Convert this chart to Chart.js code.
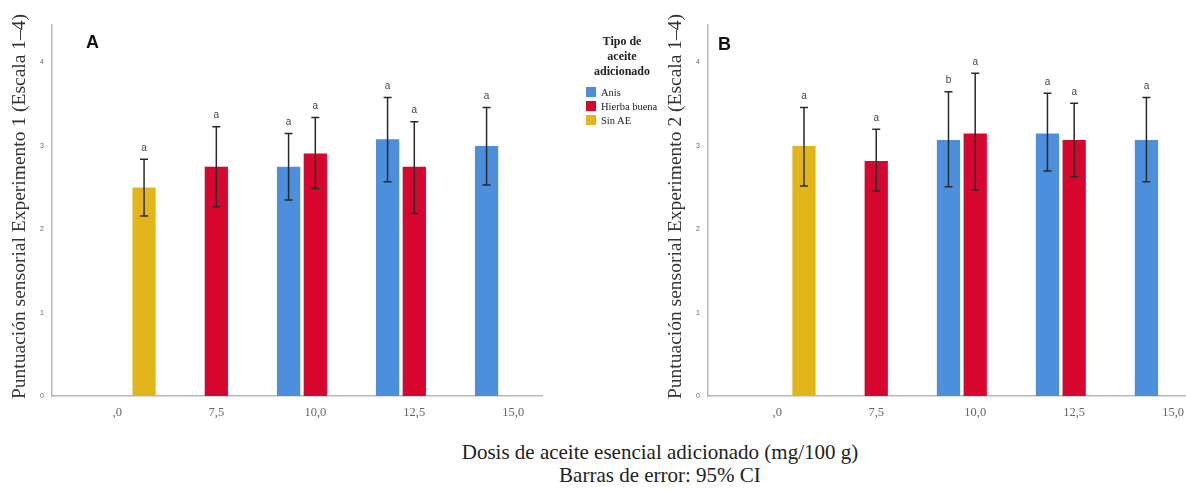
<!DOCTYPE html>
<html lang="es">
<head>
<meta charset="utf-8">
<title>Puntuación sensorial</title>
<script src="https://cdn.jsdelivr.net/npm/chart.js@4.4.1/dist/chart.umd.min.js"></script>
<style>
  html, body { margin: 0; padding: 0; background: #fff; }
  body { position: relative; width: 1186px; height: 490px; overflow: hidden; }
  canvas { position: absolute; top: 0; }
  #chartA { left: 0; }
  #chartB { left: 656px; }
  .panel { position: absolute; font: bold 18px "Liberation Sans", Arial, sans-serif; color: #111; }
  #legend { position: absolute; left: 578px; top: 34px; width: 90px; font-family: "Liberation Serif", "Times New Roman", serif; color: #222; }
  #legend .lt { font-weight: bold; font-size: 12px; line-height: 15px; text-align: center; margin-left: -2px; }
  #legend .item { display: flex; align-items: center; height: 14px; font-size: 10.5px; margin-left: 8px; }
  #legend .box { width: 10px; height: 10px; margin-right: 5px; }
  #legend #items { margin-top: 6px; }
  #caption { position: absolute; left: 360px; top: 441px; width: 600px; text-align: center; font: 21px/23px "Liberation Serif", "Times New Roman", serif; color: #222; }
</style>
</head>
<body>
<canvas id="chartA" width="552" height="430"></canvas>
<canvas id="chartB" width="540" height="430"></canvas>
<div class="panel" style="left:86px; top:32px;">A</div>
<div class="panel" style="left:718px; top:34px;">B</div>
<div id="legend">
  <div class="lt">Tipo de<br>aceite<br>adicionado</div>
  <div id="items"></div>
</div>
<div id="caption">Dosis de aceite esencial adicionado (mg/100 g)<br>Barras de error: 95% CI</div>
<script>
// Categories and series
const doses = [',0', '7,5', '10,0', '12,5', '15,0'];
const seriesNames = ['Anis', 'Hierba buena', 'Sin AE'];
const seriesColors = ['#4c8fdd', '#d7062f', '#e2b51a'];

// Experiment 1 (panel A): means, 95% CI bounds, letters
const anisA = [null, null, 2.75, 3.08, 3.00];
const anisA_lo = [null, null, 2.35, 2.57, 2.53];
const anisA_hi = [null, null, 3.15, 3.58, 3.46];
const hierbaA = [null, 2.75, 2.91, 2.75, null];
const hierbaA_lo = [null, 2.27, 2.49, 2.19, null];
const hierbaA_hi = [null, 3.23, 3.34, 3.29, null];
const sinA = [2.50, null, null, null, null];
const sinA_lo = [2.16, null, null, null, null];
const sinA_hi = [2.84, null, null, null, null];
const anisA_let = ['', '', 'a', 'a', 'a'];
const hierbaA_let = ['', 'a', 'a', 'a', ''];
const sinA_let = ['a', '', '', '', ''];

// Experiment 2 (panel B)
const anisB = [null, null, 3.07, 3.15, 3.07];
const anisB_lo = [null, null, 2.51, 2.70, 2.57];
const anisB_hi = [null, null, 3.65, 3.63, 3.58];
const hierbaB = [null, 2.82, 3.15, 3.07, null];
const hierbaB_lo = [null, 2.46, 2.47, 2.63, null];
const hierbaB_hi = [null, 3.20, 3.87, 3.51, null];
const sinB = [3.00, null, null, null, null];
const sinB_lo = [2.52, null, null, null, null];
const sinB_hi = [3.46, null, null, null, null];
const anisB_let = ['', '', 'b', 'a', 'a'];
const hierbaB_let = ['', 'a', 'a', 'a', ''];
const sinB_let = ['a', '', '', '', ''];

const yTicks = [0, 1, 2, 3, 4];

// error bars + significance letters
const errorBars = {
  id: 'errorBars',
  afterDatasetsDraw(chart) {
    const ctx = chart.ctx;
    const y = chart.scales.y;
    chart.data.datasets.forEach((ds, i) => {
      chart.getDatasetMeta(i).data.forEach((bar, j) => {
        if (ds.lo[j] == null) return;
        const top = y.getPixelForValue(ds.hi[j]);
        const bot = y.getPixelForValue(ds.lo[j]);
        ctx.save();
        ctx.strokeStyle = '#2a2a2a';
        ctx.lineWidth = 1.5;
        ctx.beginPath();
        ctx.moveTo(bar.x, top); ctx.lineTo(bar.x, bot);
        ctx.moveTo(bar.x - 4, top); ctx.lineTo(bar.x + 4, top);
        ctx.moveTo(bar.x - 4, bot); ctx.lineTo(bar.x + 4, bot);
        ctx.stroke();
        ctx.fillStyle = '#444';
        ctx.font = '10px "Liberation Sans", Arial, sans-serif';
        ctx.textAlign = 'center';
        ctx.textBaseline = 'bottom';
        ctx.fillText(ds.letters[j], bar.x, top - 6);
        ctx.restore();
      });
    });
  }
};

// rotated y title, drawn unclipped
const yTitle = {
  id: 'yTitle',
  afterDraw(chart, args, opts) {
    const ctx = chart.ctx;
    const a = chart.chartArea;
    ctx.save();
    ctx.translate(opts.x, (a.top + a.bottom) / 2 - 4);
    ctx.rotate(-Math.PI / 2);
    ctx.fillStyle = '#333';
    ctx.font = '19.5px "Liberation Serif", "Times New Roman", serif';
    ctx.textAlign = 'center';
    ctx.textBaseline = 'middle';
    ctx.fillText(opts.text, 0, 0);
    ctx.restore();
  }
};

function points(values) {
  return values.map((v, i) => ({ x: i, y: v }));
}

function makeChart(id, means, lows, highs, letters, xMin, xMax, title) {
  return new Chart(document.getElementById(id), {
    type: 'bar',
    data: {
      datasets: seriesNames.map((name, k) => ({
        label: name,
        data: points(means[k]),
        lo: lows[k],
        hi: highs[k],
        letters: letters[k],
        backgroundColor: seriesColors[k],
        categoryPercentage: 0.81,
        barPercentage: 0.87
      }))
    },
    options: {
      responsive: false,
      animation: false,
      layout: { padding: { top: 25, right: 10, left: 0, bottom: 0 } },
      plugins: {
        legend: { display: false },
        tooltip: { enabled: false },
        yTitle: { text: title, x: 20 }
      },
      scales: {
        x: {
          type: 'linear',
          offset: false,
          min: xMin,
          max: xMax,
          grid: { display: false, drawTicks: false },
          border: { color: '#b8b8b8', width: 1.5 },
          afterBuildTicks: s => { s.ticks = doses.map((d, i) => ({ value: i })); },
          afterFit: s => { s.height = 34; },
          ticks: {
            autoSkip: false,
            maxRotation: 0,
            padding: 9,
            color: '#666',
            font: { family: '"Liberation Serif", "Times New Roman", serif', size: 12.5 },
            callback: v => doses[v]
          }
        },
        y: {
          min: 0,
          max: 4.45,
          grid: { display: false, drawTicks: false },
          border: { color: '#b8b8b8', width: 1.5 },
          afterBuildTicks: s => { s.ticks = yTicks.map(v => ({ value: v })); },
          afterFit: s => { s.width = 52; },
          ticks: {
            padding: 8,
            color: '#666',
            font: { family: '"Liberation Sans", Arial, sans-serif', size: 7 }
          }
        }
      }
    },
    plugins: [errorBars, yTitle]
  });
}

// Panel A
const chartA = makeChart('chartA',
  [anisA, hierbaA, sinA], [anisA_lo, hierbaA_lo, sinA_lo], [anisA_hi, hierbaA_hi, sinA_hi],
  [anisA_let, hierbaA_let, sinA_let], -0.66, 4.29,
  'Puntuación sensorial Experimento 1 (Escala 1–4)');

// Panel B
const chartB = makeChart('chartB',
  [anisB, hierbaB, sinB], [anisB_lo, hierbaB_lo, sinB_lo], [anisB_hi, hierbaB_hi, sinB_hi],
  [anisB_let, hierbaB_let, sinB_let], -0.70, 4.13,
  'Puntuación sensorial Experimento 2 (Escala 1–4)');

// Legend built from the series
document.getElementById('items').innerHTML = seriesNames.map((n, k) =>
  '<div class="item"><span class="box" style="background:' + seriesColors[k] + '"></span>' + n + '</div>'
).join('');
</script>
</body>
</html>
